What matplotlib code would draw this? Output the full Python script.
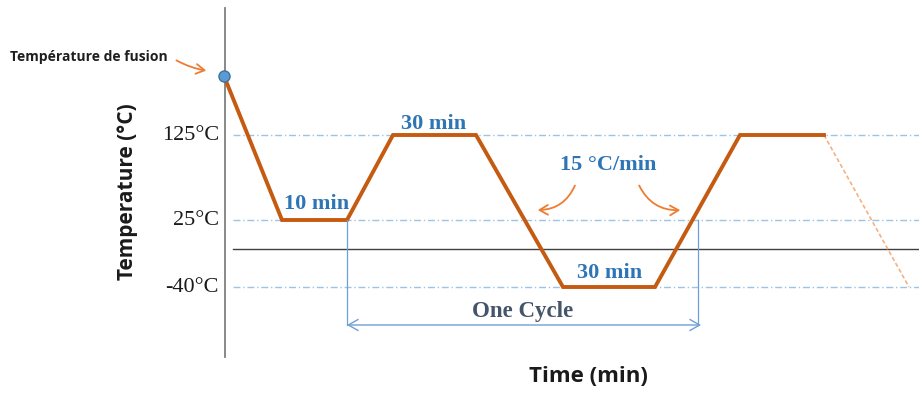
import numpy as np
import matplotlib
matplotlib.use('Agg')
import matplotlib.pyplot as plt
from matplotlib.patches import FancyArrowPatch

# ---- data (schematic profile) ----
phase_times = [0, 5.8, 12.3, 16.9, 25.2, 33.9, 43.1, 51.6, 60.0]   # min
phase_temps = [190, 25, 25, 125, 125, -40, -40, 125, 125]          # °C
next_times = [60.0, 68.5]
next_temps = [125, -40]
level_temps = [125, 25, -40]
level_labels = ['125°C', '25°C', '-40°C']
zero_temp = 0
dwell_labels = ['10 min', '30 min', '30 min']
ramp_label = '15 °C/min'
cycle_start, cycle_end = 12.3, 47.4
melt_label = 'Température de fusion'

# ---- schematic (non-linear) temperature scale ----
key_T = np.array([-300, -40, 0, 25, 125, 190, 500], float)
key_px = np.array([287 + 260 * 0.95, 287, 249, 220, 135, 76, 76 - 310 * 0.9])

def fwd(T):
    return -np.interp(T, key_T, key_px)

def inv(v):
    return np.interp(v, -key_px, key_T)

W, H = 919, 394
fig = plt.figure(figsize=(W / 100, H / 100), dpi=100)
ax = fig.add_axes([0, 0, 1, 1])
ax.set_yscale('function', functions=(fwd, inv))
ax.set_xlim(-22.4, (W - 224) / 10)
ax.set_ylim(inv(-H), inv(0))
ax.axis('off')

def P(x, y):
    """pixel layout position -> data coords"""
    return (x - 224) / 10, inv(-y)

serif = 'Liberation Serif'
sans = 'Open Sans'
blue_txt = '#2e75b6'
orange = '#c55a11'
light_orange = '#ed7d31'
grid_blue = '#9dc3e6'

# axis lines
ax.axvline(0.1, ymin=1 - 357 / H, ymax=1 - 8 / H, color='#7f7f7f', lw=1.3)
ax.axhline(zero_temp, xmin=233 / W, xmax=1, color='#404040', lw=1.0)

# level lines
for T, lab in zip(level_temps, level_labels):
    ax.axhline(T, xmin=233 / W, xmax=1, color=grid_blue, lw=1.0,
               linestyle=(0, (5, 2, 1, 2)))
    ax.text(-0.5, T, lab, ha='right', va='center', family=serif,
            fontsize=16, color='#1a1a1a')

# profile
ax.plot(next_times, next_temps, color='#f4b183', lw=1.2, ls=(0, (2.5, 1.5)))
ax.plot(phase_times, phase_temps, color=orange, lw=2.8, solid_joinstyle='miter')
ax.plot(phase_times[0], phase_temps[0], 'o', ms=8, mfc='#5b9bd5', mec='#41719c', mew=1)

# dwell labels
fs_lab = 16
ax.text(*P(317, 204), dwell_labels[0], ha='center', va='center', family=serif,
        fontsize=fs_lab, fontweight='bold', color=blue_txt)
ax.text(*P(434, 124), dwell_labels[1], ha='center', va='center', family=serif,
        fontsize=fs_lab, fontweight='bold', color=blue_txt)
ax.text(*P(610, 273), dwell_labels[2], ha='center', va='center', family=serif,
        fontsize=fs_lab, fontweight='bold', color=blue_txt)
ax.text(*P(608, 165), ramp_label, ha='center', va='center', family=serif,
        fontsize=fs_lab, fontweight='bold', color=blue_txt)

# curved ramp arrows
for (x0, y0), (x1, y1), rad in [((576, 183), (535, 210), -0.35),
                                ((638, 183), (683, 210), 0.35)]:
    arr = FancyArrowPatch(P(x0, y0), P(x1, y1), connectionstyle=f'arc3,rad={rad}',
                          arrowstyle='->,head_length=6,head_width=3.5',
                          color=light_orange, lw=1.3)
    ax.add_patch(arr)

# melting point annotation
ax.text(*P(10, 57), melt_label, ha='left', va='center', family=sans,
        fontsize=10, fontweight='bold', color='#1f1f1f')
ax.add_patch(FancyArrowPatch(P(174, 59), P(209, 71),
                             connectionstyle='arc3,rad=0.1',
                             arrowstyle='->,head_length=6,head_width=3.5',
                             color=light_orange, lw=1.3))

# one cycle
cyc_blue = '#6f9fd8'
for t in (cycle_start, cycle_end):
    ax.plot([t, t], [25, inv(-325)], color=cyc_blue, lw=0.9)
ax.add_patch(FancyArrowPatch((cycle_start, inv(-325)), (cycle_end + 0.3, inv(-325)),
                             arrowstyle='<->,head_length=7,head_width=4',
                             color=cyc_blue, lw=1.0, shrinkA=0, shrinkB=0))
ax.text(*P(523, 311), 'One Cycle', ha='center', va='center', family=serif,
        fontsize=16.5, fontweight='bold', color='#44546a')

# axis titles
ax.text(*P(128, 192), 'Temperature (°C)', ha='center', va='center', rotation=90,
        family=sans, fontsize=15, fontweight='bold', color='#1a1a1a')
ax.text(*P(588, 376), 'Time (min)', ha='center', va='center',
        family=sans, fontsize=16, fontweight='bold', color='#1a1a1a')

fig.savefig('out.png', dpi=100)
